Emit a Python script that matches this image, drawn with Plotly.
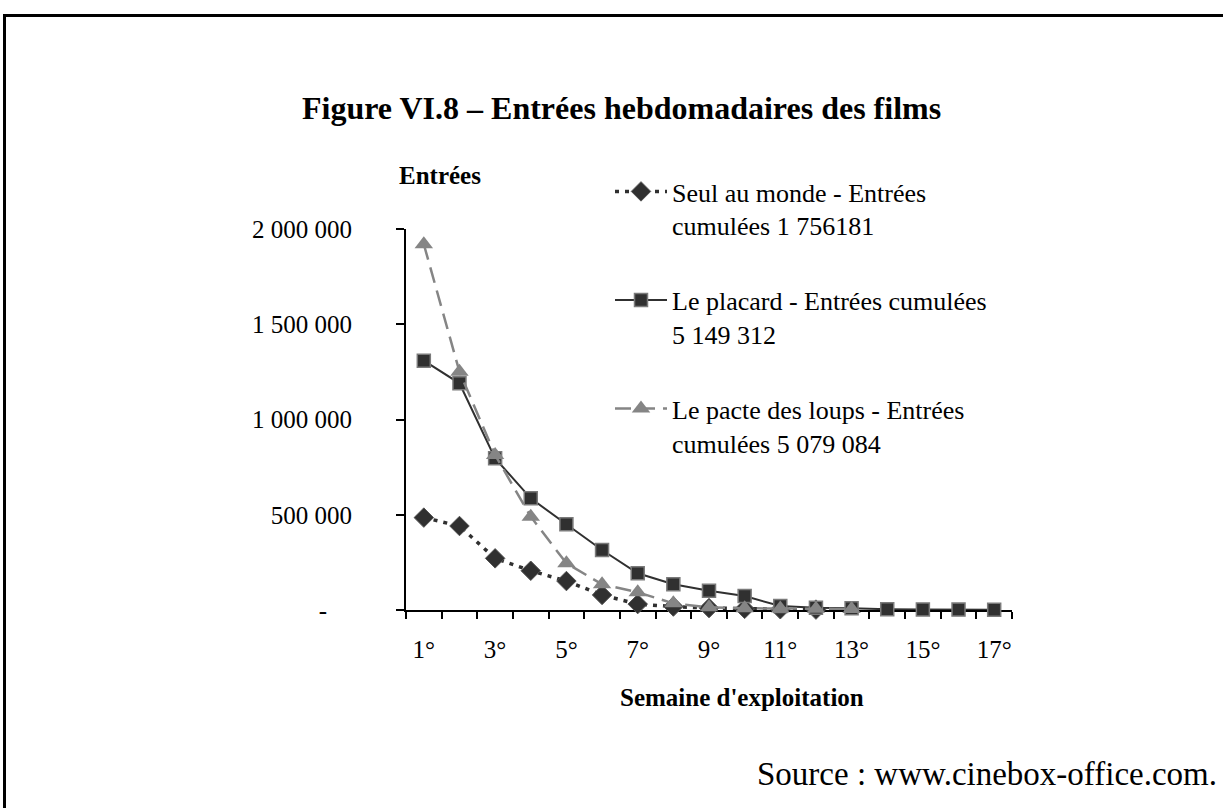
import plotly.graph_objects as go

# ---------------- data ----------------
weeks = list(range(1, 18))
week_labels = [f"{w}°" for w in weeks]

seul_au_monde = [485000, 441000, 271000, 206000, 152000, 79000, 31000, 18000,
                 10000, 6000, 4000, 2000]
le_placard = [1309000, 1190000, 796000, 586000, 450000, 315000, 193000, 135000,
              101000, 73000, 21000, 12000, 9000, 4000, 3000, 2000, 1500]
le_pacte = [1920000, 1251000, 814000, 490000, 245000, 135000, 93000, 35000,
            14000, 9000, 8000, 6000, 5000]

series_names = [
    "Seul au monde - Entrées<br>cumulées 1 756181",
    "Le placard - Entrées cumulées<br>5 149 312",
    "Le pacte des loups - Entrées<br>cumulées 5 079 084",
]

y_tickvals = [0, 500000, 1000000, 1500000, 2000000]
y_ticktext = ["-\u00a0\u00a0\u00a0\u00a0", "500 000", "1 000 000", "1 500 000", "2 000 000"]

title_text = "Figure VI.8 – Entrées hebdomadaires des films"
y_title = "Entrées"
x_title = "Semaine d'exploitation"
source_text = "Source : www.cinebox-office.com."

# ---------------- layout helpers ----------------
W, H = 1223, 808
def fx(p):
    return p / W
def fy(p):
    return 1 - p / H

SERIF = "Liberation Serif, Times New Roman, serif"
DARK = "#303030"
GREY = "#858585"

fig = go.Figure()

fig.add_trace(go.Scatter(
    x=weeks[:len(seul_au_monde)], y=seul_au_monde, name=series_names[0],
    mode="lines+markers", legendgroup="a",
    line=dict(color=DARK, width=3.5, dash="4px,6px"),
    marker=dict(symbol="diamond", size=15, color=DARK, line=dict(color="#555", width=1)),
    cliponaxis=False,
))
fig.add_trace(go.Scatter(
    x=weeks[:len(le_placard)], y=le_placard, name=series_names[1],
    mode="lines+markers", legendgroup="b",
    line=dict(color=DARK, width=2),
    marker=dict(symbol="square", size=13, color=DARK, line=dict(color="#7a7a7a", width=1.5)),
    cliponaxis=False,
))
fig.add_trace(go.Scatter(
    x=weeks[:len(le_pacte)], y=le_pacte, name=series_names[2],
    mode="lines+markers", legendgroup="c",
    line=dict(color=GREY, width=2.5, dash="16px,8px"),
    marker=dict(symbol="triangle-up", size=16, color=GREY),
    cliponaxis=False,
))

boundaries = [w - 0.5 for w in weeks] + [weeks[-1] + 0.5]
xrange = [boundaries[0], boundaries[-1]]

fig.update_layout(
    width=W, height=H,
    margin=dict(l=0, r=0, t=0, b=0),
    paper_bgcolor="white", plot_bgcolor="white",
    font=dict(family=SERIF, size=25, color="black"),
    showlegend=True,
    legend=dict(
        x=fx(610), y=fy(168), xanchor="left", yanchor="top",
        bgcolor="rgba(0,0,0,0)", borderwidth=0,
        font=dict(family=SERIF, size=26, color="black"),
        valign="top", tracegroupgap=38, itemwidth=52,
    ),
    xaxis=dict(
        domain=[fx(406), fx(1012)], range=xrange, anchor="y",
        tickmode="array", tickvals=boundaries, showticklabels=False,
        ticks="outside", ticklen=7, tickwidth=2, tickcolor="black",
        showline=True, linecolor="black", linewidth=2,
        showgrid=False, zeroline=False, layer="below traces", automargin=False,
    ),
    xaxis2=dict(
        overlaying="x", anchor="y", side="bottom", range=xrange,
        tickmode="array", tickvals=weeks[::2], ticktext=week_labels[::2],
        ticks="", showline=False, showgrid=False, zeroline=False,
        ticklabelstandoff=22, automargin=False,
        tickfont=dict(family=SERIF, size=25, color="black"),
    ),
    yaxis=dict(
        domain=[fy(610), fy(229)], range=[0, 2000000],
        tickmode="array", tickvals=y_tickvals, ticktext=y_ticktext,
        ticks="outside", ticklen=8, tickwidth=2, tickcolor="black",
        showline=True, linecolor="black", linewidth=2,
        showgrid=False, zeroline=False, automargin=False,
        ticklabelstandoff=39,
        tickfont=dict(family=SERIF, size=25, color="black"),
    ),
    annotations=[
        dict(text=f"<b>{title_text}</b>", x=fx(621), y=fy(108), xref="paper", yref="paper",
             xanchor="center", yanchor="middle", showarrow=False,
             font=dict(family=SERIF, size=32, color="black")),
        dict(text=f"<b>{y_title}</b>", x=fx(397), y=fy(176), xref="paper", yref="paper",
             xanchor="left", yanchor="middle", showarrow=False,
             font=dict(family=SERIF, size=25, color="black")),
        dict(text=f"<b>{x_title}</b>", x=fx(742), y=fy(697), xref="paper", yref="paper",
             xanchor="center", yanchor="middle", showarrow=False,
             font=dict(family=SERIF, size=25, color="black")),
        dict(text=source_text, x=fx(1219), y=fy(774), xref="paper", yref="paper",
             xanchor="right", yanchor="middle", showarrow=False,
             font=dict(family=SERIF, size=33, color="black")),
    ],
    shapes=[
        dict(type="rect", xref="paper", yref="paper",
             x0=fx(4.5), x1=fx(1240), y0=fy(830), y1=fy(15.5),
             line=dict(color="black", width=3), fillcolor="rgba(0,0,0,0)", layer="above"),
    ],
)

# dummy trace to activate xaxis2 labels
fig.add_trace(go.Scatter(x=[weeks[0]], y=[None], xaxis="x2", showlegend=False,
                         hoverinfo="skip", mode="markers"))

fig.write_html("out.html", config={"displayModeBar": False},
               post_script="document.body.style.margin='0';document.body.style.overflow='hidden';")
